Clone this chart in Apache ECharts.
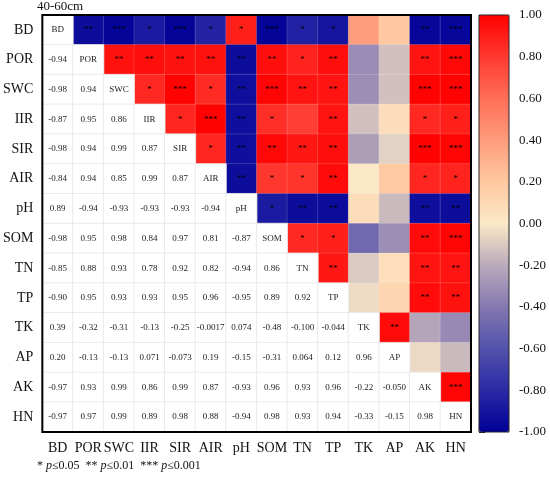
<!DOCTYPE html>
<html>
<head>
<meta charset="utf-8">
<script src="https://cdn.jsdelivr.net/npm/echarts@6/dist/echarts.min.js"></script>
<style>
  html, body { margin: 0; padding: 0; background: #fff; }
  #main { width: 550px; height: 480px; }
</style>
</head>
<body>
<div id="main"></div>
<script>
// variable names (x from left, y from top)
const vars = ['BD', 'POR', 'SWC', 'IIR', 'SIR', 'AIR', 'pH', 'SOM', 'TN', 'TP', 'TK', 'AP', 'AK', 'HN'];

// lower triangle: row i, columns 0..i-1, as printed
const lower = [
	[],
	['-0.94'],
	['-0.98', '0.94'],
	['-0.87', '0.95', '0.86'],
	['-0.98', '0.94', '0.99', '0.87'],
	['-0.84', '0.94', '0.85', '0.99', '0.87'],
	['0.89', '-0.94', '-0.93', '-0.93', '-0.93', '-0.94'],
	['-0.98', '0.95', '0.98', '0.84', '0.97', '0.81', '-0.87'],
	['-0.85', '0.88', '0.93', '0.78', '0.92', '0.82', '-0.94', '0.86'],
	['-0.90', '0.95', '0.93', '0.93', '0.95', '0.96', '-0.95', '0.89', '0.92'],
	['0.39', '-0.32', '-0.31', '-0.13', '-0.25', '-0.0017', '0.074', '-0.48', '-0.100', '-0.044'],
	['0.20', '-0.13', '-0.13', '0.071', '-0.073', '0.19', '-0.15', '-0.31', '0.064', '0.12', '0.96'],
	['-0.97', '0.93', '0.99', '0.86', '0.99', '0.87', '-0.93', '0.96', '0.93', '0.96', '-0.22', '-0.050'],
	['-0.97', '0.97', '0.99', '0.89', '0.98', '0.88', '-0.94', '0.98', '0.93', '0.94', '-0.33', '-0.15', '0.98']
];

// upper triangle significance: row i, columns i+1..13
const stars = [
	['**', '***', '*', '***', '*', '*', '***', '*', '*', '', '', '**', '***'],
	['**', '**', '**', '**', '**', '**', '*', '**', '', '', '**', '***'],
	['*', '***', '*', '**', '***', '**', '**', '', '', '***', '***'],
	['*', '***', '**', '*', '', '**', '', '', '*', '*'],
	['*', '**', '**', '**', '**', '', '', '***', '***'],
	['**', '*', '*', '**', '', '', '*', '*'],
	['*', '**', '**', '', '', '**', '**'],
	['*', '*', '', '', '**', '***'],
	['**', '', '', '**', '**'],
	['', '', '**', '**'],
	['**', '', ''],
	['', ''],
	['***'],
	[]
];

// colour scale from -1 to 1
const scaleColors = ['#000098', '#2a2aa6', '#5252ac', '#8478b0', '#baaabb', '#fbe9c7',
	'#ffc8a0', '#ff9c7c', '#ff6e58', '#ff3a30', '#ff0000'];

const FONT = '"Liberation Serif", "Times New Roman", serif';

let upperData = [], lowerData = [];
vars.forEach((name, i) => {
	lower[i].forEach((txt, j) => {
		lowerData.push([j, i, parseFloat(txt), txt]);
	});
	lowerData.push([i, i, 1, name]);
	stars[i].forEach((s, k) => {
		const j = i + 1 + k;
		// symmetric matrix: colour from the mirrored value
		upperData.push([j, i, parseFloat(lower[j][i]), s]);
	});
});

const chart = echarts.init(document.getElementById('main'));
chart.setOption({
	backgroundColor: '#fff',
	animation: false,
	title: {
		text: '40-60cm',
		left: 37,
		top: 0,
		padding: 0,
		textStyle: { fontFamily: FONT, fontSize: 13, fontWeight: 'normal', color: '#111' }
	},
	grid: [
		{ left: 37, top: 15, width: 434, height: 417, show: true, borderColor: '#000', borderWidth: 2, z: 10 },
		{ left: 479, top: 15, width: 30, height: 417, show: true, borderColor: '#222', borderWidth: 1, z: 10 }
	],
	xAxis: [{
		type: 'category',
		data: vars,
		gridIndex: 0,
		axisLine: { show: false },
		axisTick: { show: false },
		splitLine: { show: false },
		axisLabel: { interval: 0, fontFamily: FONT, fontSize: 14, color: '#111', margin: 9 }
	}, {
		type: 'value',
		gridIndex: 1,
		min: 0,
		max: 1,
		show: false
	}],
	yAxis: [{
		type: 'category',
		data: vars,
		inverse: true,
		gridIndex: 0,
		axisLine: { show: false },
		axisTick: { show: false },
		splitLine: { show: false },
		axisLabel: { interval: 0, fontFamily: FONT, fontSize: 14, color: '#111', margin: 9 }
	}, {
		type: 'value',
		gridIndex: 1,
		min: -1,
		max: 1,
		interval: 0.2,
		position: 'right',
		axisLine: { show: false },
		axisTick: { show: true, length: 6, lineStyle: { color: '#222' } },
		splitLine: { show: false },
		axisLabel: {
			fontFamily: FONT, fontSize: 13, color: '#111', margin: 10,
			formatter: v => v.toFixed(2)
		}
	}],
	visualMap: {
		type: 'continuous',
		seriesIndex: 0,
		dimension: 2,
		min: -1,
		max: 1,
		calculable: false,
		orient: 'vertical',
		left: 479,
		top: 15,
		itemWidth: 30,
		itemHeight: 417,
		padding: 0,
		text: null,
		showLabel: false,
		inRange: { color: scaleColors }
	},
	series: [{
		type: 'heatmap',
		xAxisIndex: 0,
		yAxisIndex: 0,
		data: upperData,
		itemStyle: { borderColor: 'rgba(255,255,255,0.25)', borderWidth: 0.6 },
		label: {
			show: true,
			formatter: p => p.data[3],
			fontFamily: FONT,
			fontSize: 9,
			color: '#000'
		},
		emphasis: { disabled: true }
	}, {
		type: 'heatmap',
		xAxisIndex: 0,
		yAxisIndex: 0,
		data: lowerData,
		itemStyle: { color: '#fff', borderColor: '#e6e6e6', borderWidth: 0.8 },
		label: {
			show: true,
			formatter: p => p.data[3],
			fontFamily: FONT,
			fontSize: 9,
			color: '#222'
		},
		emphasis: { disabled: true }
	}, {
		type: 'scatter',
		xAxisIndex: 1,
		yAxisIndex: 1,
		data: []
	}],
	graphic: [{
		type: 'text',
		left: 37,
		top: 460,
		style: {
			text: '* {i|p}≤0.05  ** {i|p}≤0.01  *** {i|p}≤0.001',
			font: '12px ' + FONT,
			fill: '#111',
			rich: { i: { fontStyle: 'italic', fontFamily: FONT, fontSize: 12 } }
		}
	}]
});
</script>
</body>
</html>
